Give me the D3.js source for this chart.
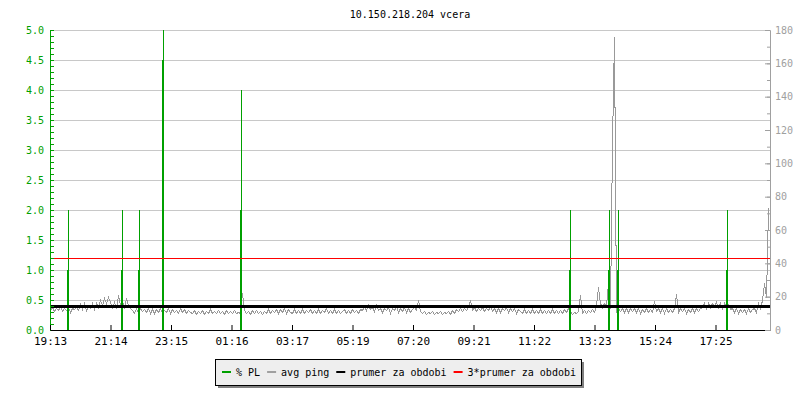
<!DOCTYPE html>
<html>
<head>
<meta charset="utf-8">
<script src="https://cdn.jsdelivr.net/npm/d3@7"></script>
<style>
  body { margin: 0; background: #fff; }
  svg text { font-family: "DejaVu Sans Mono", monospace; }
</style>
</head>
<body>
<svg id="chart" width="800" height="400"></svg>
<script>
const title = "10.150.218.204 vcera";

// x axis: minutes from start of the 24h window
const timeLabels = ["19:13", "21:14", "23:15", "01:16", "03:17", "05:19", "07:20", "09:21", "11:22", "13:23", "15:24", "17:25"];
const timeTickMinutes = [0, 121, 242, 363, 484, 605, 726, 847, 968, 1089, 1210, 1331];

const plTicks = [0, 0.5, 1, 1.5, 2, 2.5, 3, 3.5, 4, 4.5, 5];
const pingTicks = [0, 20, 40, 60, 80, 100, 120, 140, 160, 180];

// avg ping (ms), one value every 4 minutes
const sampleStep = 4;
const avgPing = [
  12,14,11.5,13.5,12,14.5,11.5,13,12,14,11,13.5,12.5,
  14,12,15.5,12.5,16,12,14.5,13,16,12.5,
  16,14,18,15,19,16,20,17,
  14,17,13.5,21,15,17.5,14,19,15,13,
  12,10.5,13,10.5,13,11.5,12.5,
  11,13,10.5,12.5,10,12.5,11,13,10.5,12,11,13,10,12.5,11,12,10,13,11,12.5,10.5,12,11,
  10,12,9.5,11.5,10.5,12,9.5,11.5,10,12.5,10,11.5,10,12,10.5,11.5,9.5,12,10,11.5,10,12,10.5,11,10,
  22,
  12,10,11.5,9.5,12,10.5,12,10,11.5,9.5,11.5,10.5,12.5,10,12,11,12.5,10.5,12.5,11,13,10.5,12.5,11,
  10.5,12.5,10,12,10.5,12.5,10,12,11,12.5,10,12,10.5,12.5,10,12,11,13,10.5,12,10,12.5,10.5,12,10,11.5,12.5,10.5,12,10,12.5,11,12,10.5,12.5,
  12,14.5,12,15,12.5,14,11.5,15,12,13.5,
  11,13,12,14,10.5,13,12,14.5,11,13,11.5,14,11,13,11,12.5,14,12,
  18,
  11.5,10,11.5,9.5,11,10,11.5,9.5,11,10,11.5,9.5,11,10,11.5,9.5,12,10.5,12.5,11.5,13,
  11.5,13.5,12,14,18,12,14,11.5,13.5,12,14,11.5,13.5,12,14.5,11.5,13,11,13.5,11,13,12,14,11,13,11.5,13,10.5,12.5,11.5,
  10.5,12.5,10,12,10.5,12.5,10,12,10.5,12.5,10,12,10,12,10,12.5,10.5,12,10,12,10.5,12.5,11,13,11.5,
  9.5,11,10,11.5,21,10,12,10.5,12,11,12.5,11,
  15,26,16,14,16,15,28,
  13,112,176,
  11,13,11.5,13.5,11,13,11,13,11.5,13.5,11,13,10.5,12.5,11,13,11,12.5,
  11,17.5,11.5,13,11,13,10.5,13,11,12.5,11,13,
  21.5,
  11,13,11.5,13,10.5,12.5,11,13,11,13.5,11.5,13,
  14,16,13.5,16.5,14,16,14.5,17,14,16,13.5,16.5,14,15.5,12.5,13.5,11,13,10.5,12.5,
  11,12.5,10.5,13,11,12.5,13,11,16,13,18,28,20,73
];

// packet loss events (%): minute, peak value, held value
const plMinutes = [36, 144, 178, 226, 382, 1040, 1118, 1136, 1354];
const plPeak = [2, 2, 2, 5, 4, 2, 2, 2, 2];
const plBase = [1, 1, 1, 4.5, 2, 1, 1, 1, 1];

const pingMean = 14.4;

const legendLabels = ["% PL", "avg ping", "prumer za obdobi", "3*prumer za obdobi"];
const legendColors = ["#00a000", "#a0a0a0", "#000000", "#ff0000"];

const green = "#00a000", gray = "#a0a0a0", grid = "#c8c8c8";

const svg = d3.select("#chart"),
      margin = { top: 30, right: 30, bottom: 70, left: 50 },
      width = +svg.attr("width") - margin.left - margin.right,
      height = +svg.attr("height") - margin.top - margin.bottom;

svg.append("rect").attr("width", 800).attr("height", 400).attr("fill", "#fff");

const x = d3.scaleLinear().domain([0, 1440]).range([margin.left, margin.left + width]);
const yPL = d3.scaleLinear().domain([0, 5]).range([margin.top + height, margin.top]);
const yPing = d3.scaleLinear().domain([0, 180]).range([margin.top + height, margin.top]);

svg.append("text")
    .attr("x", 410)
    .attr("y", 18)
    .attr("text-anchor", "middle")
    .style("font-size", "10px")
    .text(title);

// grid
const gridG = svg.append("g")
    .attr("transform", `translate(${margin.left},0)`)
    .call(d3.axisLeft(yPL).tickValues(plTicks.filter(d => d > 0)).tickSize(-width).tickFormat(""));
gridG.select(".domain").remove();
gridG.selectAll("line").attr("stroke", grid);

// avg ping
const pingLine = d3.line()
    .x((d, i) => x(i * sampleStep) + 0.5)
    .y(d => Math.round(yPing(d)) + 0.5);

svg.append("path")
    .datum(avgPing)
    .attr("d", pingLine)
    .attr("fill", "none")
    .attr("stroke", "#999999")
    .attr("stroke-width", 1)
    .attr("shape-rendering", "crispEdges");

// packet loss
plMinutes.forEach((m, i) => {
    const px = Math.round(x(m));
    svg.append("rect")
        .attr("x", px)
        .attr("y", yPL(plPeak[i]))
        .attr("width", 1)
        .attr("height", yPL(0) - yPL(plPeak[i]))
        .attr("fill", green);
    svg.append("rect")
        .attr("x", px - 1)
        .attr("y", yPL(plBase[i]))
        .attr("width", 2)
        .attr("height", yPL(0) - yPL(plBase[i]))
        .attr("fill", green);
});

// mean lines
svg.append("line")
    .attr("x1", margin.left).attr("x2", margin.left + width)
    .attr("y1", Math.round(yPing(3 * pingMean)) + 0.5)
    .attr("y2", Math.round(yPing(3 * pingMean)) + 0.5)
    .attr("stroke", "#ff0000");

svg.append("line")
    .attr("x1", margin.left).attr("x2", margin.left + width)
    .attr("y1", Math.round(yPing(pingMean)) + 0.5)
    .attr("y2", Math.round(yPing(pingMean)) + 0.5)
    .attr("stroke", "#000")
    .attr("stroke-width", 3);

// left axis (% PL)
svg.append("g")
    .attr("transform", `translate(${margin.left},0)`)
    .attr("color", green)
    .call(d3.axisLeft(yPL).tickValues(yPL.ticks(50)).tickSize(-4).tickSizeOuter(0).tickFormat(""));

const leftAxis = svg.append("g")
    .attr("transform", `translate(${margin.left},0)`)
    .attr("color", green)
    .call(d3.axisLeft(yPL).tickValues(plTicks).tickSize(-4).tickSizeOuter(0).tickPadding(6).tickFormat(d3.format(".1f")));
leftAxis.selectAll("text").style("font-size", "10px").attr("font-family", null);

// x axis
const xAxis = svg.append("g")
    .attr("transform", `translate(0,${margin.top + height})`)
    .call(d3.axisBottom(x).tickValues(timeTickMinutes).tickFormat((d, i) => timeLabels[i])
        .tickSize(-5).tickSizeOuter(0).tickPadding(7));
xAxis.selectAll("text").style("font-size", "11px").attr("font-family", null).attr("fill", "#000");

// right axis (avg ping)
svg.append("g")
    .attr("transform", `translate(${margin.left + width},0)`)
    .attr("color", gray)
    .call(d3.axisRight(yPing).tickValues(yPing.ticks(18)).tickSize(-3).tickSizeOuter(0).tickFormat(""));

const rightAxis = svg.append("g")
    .attr("transform", `translate(${margin.left + width},0)`)
    .attr("color", gray)
    .call(d3.axisRight(yPing).tickValues(pingTicks).tickSize(-5).tickSizeOuter(0).tickPadding(5));
rightAxis.selectAll("text").style("font-size", "10px").attr("font-family", null);

// legend
const legend = svg.append("g");
legend.append("rect")
    .attr("x", 218).attr("y", 362).attr("width", 366).attr("height", 26)
    .attr("fill", "#808080");
legend.append("rect")
    .attr("x", 215.5).attr("y", 359.5).attr("width", 366).attr("height", 26)
    .attr("fill", "#eeeeee").attr("stroke", "#000");

let lx = 222;
legendLabels.forEach((label, i) => {
    legend.append("rect")
        .attr("x", lx).attr("y", 371).attr("width", 9).attr("height", 2)
        .attr("fill", legendColors[i]);
    const t = legend.append("text")
        .attr("x", lx + 14)
        .attr("y", 375.5)
        .style("font-size", "10px")
        .text(label);
    lx += 14 + t.node().getComputedTextLength() + 7;
});
</script>
</body>
</html>
